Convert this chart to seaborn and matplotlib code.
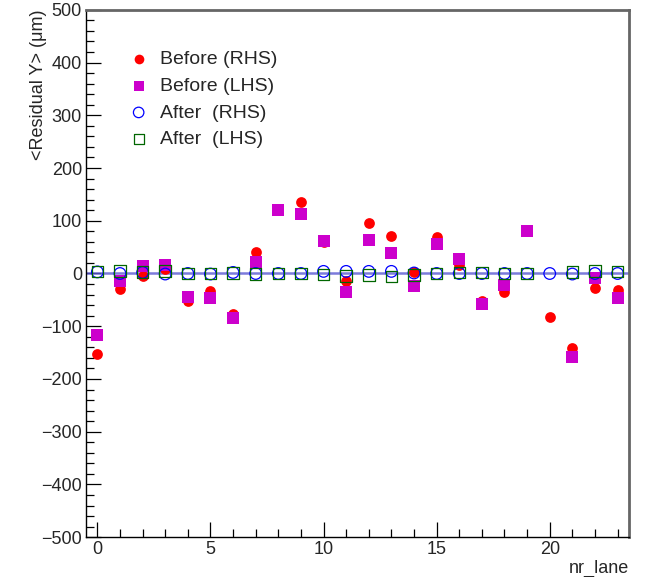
import numpy as np
import pandas as pd
import matplotlib
matplotlib.use('Agg')
import matplotlib.pyplot as plt
import seaborn as sns
from matplotlib.ticker import MultipleLocator

# lane index and mean residuals (um)
lanes = list(range(24))
before_rhs = [-153, -30, -5, 8, -53, -33, -77, 41, 123, 135, 60, -14,
              95, 71, 2, 70, 17, -52, -36, 80, -83, -142, -28, -31]
before_lhs = [-116, -15, 14, 17, -44, -47, -85, 22, 121, 113, 61, -35,
              63, 38, -24, 56, 27, -57, -21, 80, np.nan, -158, -8, -46]
after_rhs = [3, 0, 2, -1, 0, -1, 2, 0, 0, 0, 4, 4,
             4, 4, 1, 0, 0, 0, 0, 0, 0, -1, 0, 0]
after_lhs = [4, 5, 3, 5, 0, 0, 1, -1, 0, 0, -2, -5,
             -3, -6, -3, 0, 2, 2, 0, 0, np.nan, 3, 5, 4]

df = pd.DataFrame({'lane': lanes, 'before_rhs': before_rhs, 'before_lhs': before_lhs,
                   'after_rhs': after_rhs, 'after_lhs': after_lhs})

sns.set_style('ticks')
plt.rcParams['font.family'] = ['Liberation Sans', 'DejaVu Sans']

fig = plt.figure(figsize=(6.47, 5.77), dpi=100)
ax = fig.add_axes([0.133, 0.069, 0.839, 0.914])

ax.axhline(0, color='#5a5ad2', lw=1.8, alpha=0.8, zorder=1)

sns.scatterplot(data=df, x='lane', y='before_rhs', marker='o', s=60, color='#ff0000',
                linewidth=0, label='Before (RHS)', ax=ax, zorder=3)
sns.scatterplot(data=df, x='lane', y='before_lhs', marker='s', s=68, color='#cc00cc',
                linewidth=0, label='Before (LHS)', ax=ax, zorder=3)
sns.scatterplot(data=df, x='lane', y='after_rhs', marker='o', s=70, color='#0000ff',
                linewidth=0.9, label='After  (RHS)', ax=ax, zorder=4)
ax.collections[-1].set_facecolor('none')
ax.collections[-1].set_edgecolor('#0000ff')
sns.scatterplot(data=df, x='lane', y='after_lhs', marker='s', s=68, color='#006600',
                linewidth=0.9, label='After  (LHS)', ax=ax, zorder=4)
ax.collections[-1].set_facecolor('none')
ax.collections[-1].set_edgecolor('#006600')

ax.set_xlim(-0.5, 23.5)
ax.set_ylim(-500, 500)
ax.xaxis.set_major_locator(MultipleLocator(5))
ax.xaxis.set_minor_locator(MultipleLocator(1))
ax.yaxis.set_major_locator(MultipleLocator(100))
ax.yaxis.set_minor_locator(MultipleLocator(20))
ax.tick_params(which='major', direction='in', length=11, width=0.9, color='black',
               labelsize=13, top=False, right=False)
ax.tick_params(which='minor', direction='in', length=5.5, width=0.9, color='black',
               top=False, right=False)
ax.tick_params(axis='y', pad=3)
ax.tick_params(axis='x', pad=3)

for side in ['left', 'bottom']:
    ax.spines[side].set_color('black')
    ax.spines[side].set_linewidth(1)
for side in ['top', 'right']:
    ax.spines[side].set_visible(True)
    ax.spines[side].set_color('#666666')
    ax.spines[side].set_linewidth(2)

ax.set_xlabel('nr_lane', fontsize=13, loc='right')
ax.set_ylabel('<Residual Y> (μm)', fontsize=13, loc='top')
ax.xaxis.set_label_coords(1.0, -0.043)
ax.yaxis.set_label_coords(-0.072, 1.0)

leg = ax.legend(loc='upper left', bbox_to_anchor=(0.079, 0.923), frameon=False,
                fontsize=14, handlelength=1.0, handletextpad=0.6, labelspacing=0.47,
                borderpad=0, markerscale=0.9, borderaxespad=0)

fig.savefig('out.png', dpi=100)
